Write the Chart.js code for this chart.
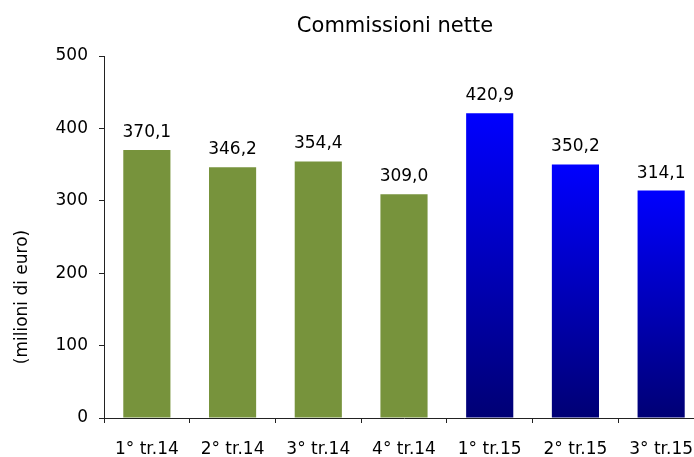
<!DOCTYPE html>
<html>
<head>
<meta charset="utf-8">
<title>Commissioni nette</title>
<script src="https://cdn.jsdelivr.net/npm/chart.js@4/dist/chart.umd.min.js"></script>
<style>
  html, body { margin: 0; padding: 0; background: #fff; overflow: hidden; }
  #wrap { width: 694px; height: 457px; overflow: hidden; }
</style>
</head>
<body>
<div id="wrap">
  <!-- the plot runs a little past the right edge in the original, so the canvas is wider than the window -->
  <canvas id="mainChart" width="704" height="457"></canvas>
</div>
<script>
const categories = ["1° tr.14", "2° tr.14", "3° tr.14", "4° tr.14", "1° tr.15", "2° tr.15", "3° tr.15"];
const commissioni = [370.1, 346.2, 354.4, 309.0, 420.9, 350.2, 314.1];
const yTicks = [0, 100, 200, 300, 400, 500];

const chartTitle = "Commissioni nette";
const yTitle = "(milioni di euro)";
const FONT = "'DejaVu Sans', sans-serif";

// green for 2014, blue gradient (per bar) for 2015
function barColor(ctx) {
  if (ctx.dataIndex < 4) return "#77933C";
  const chart = ctx.chart;
  if (!chart.chartArea || !chart.scales.y) return "#0000FF";
  const y = chart.scales.y;
  const top = y.getPixelForValue(ctx.raw);
  const bottom = y.getPixelForValue(0);
  const g = chart.ctx.createLinearGradient(0, top, 0, bottom);
  g.addColorStop(0, "#0000FF");
  g.addColorStop(1, "#000074");
  return g;
}

const extraText = {
  id: "extraText",
  afterDatasetsDraw(chart) {
    const ctx = chart.ctx;
    ctx.save();
    ctx.fillStyle = "#000";

    // value labels above bars
    ctx.font = "17px " + FONT;
    ctx.textAlign = "center";
    ctx.textBaseline = "alphabetic";
    chart.getDatasetMeta(0).data.forEach((bar, i) => {
      const txt = commissioni[i].toFixed(1).replace(".", ",");
      ctx.fillText(txt, bar.x, bar.y - 13);
    });

    // title
    ctx.font = "21px " + FONT;
    ctx.textBaseline = "middle";
    ctx.fillText(chartTitle, 395, 27);

    // y axis title
    ctx.font = "17px " + FONT;
    ctx.translate(23, 297);
    ctx.rotate(-Math.PI / 2);
    ctx.fillText(yTitle, 0, 0);
    ctx.restore();
  }
};

new Chart(document.getElementById("mainChart").getContext("2d"), {
  type: "bar",
  data: {
    labels: categories,
    datasets: [
      {
        label: chartTitle,
        data: commissioni,
        backgroundColor: barColor,
        borderWidth: 0,
        barPercentage: 0.55,
        categoryPercentage: 1
      }
    ]
  },
  options: {
    responsive: false,
    animation: false,
    layout: { padding: { top: 56, left: 0, right: 0, bottom: 0 } },
    plugins: {
      legend: { display: false },
      tooltip: { enabled: false },
      title: { display: false }
    },
    scales: {
      x: {
        afterFit: (s) => {
          s.height = 39;
          s.paddingLeft = 0;
          s.paddingRight = 0;
        },
        grid: {
          offset: true,
          drawOnChartArea: false,
          drawTicks: true,
          tickLength: 5,
          color: "#222"
        },
        border: { color: "#222", width: 1 },
        ticks: {
          color: "#000",
          font: { family: FONT, size: 17 },
          padding: 16,
          maxRotation: 0,
          autoSkip: false
        }
      },
      y: {
        min: 0,
        max: 500,
        afterFit: (s) => { s.width = 104; },
        afterBuildTicks: (s) => { s.ticks = yTicks.map((v) => ({ value: v })); },
        grid: {
          drawOnChartArea: false,
          drawTicks: true,
          tickLength: 5,
          color: "#222"
        },
        border: { color: "#222", width: 1 },
        ticks: {
          color: "#000",
          font: { family: FONT, size: 17 },
          padding: 11
        }
      }
    }
  },
  plugins: [extraText]
});
</script>
</body>
</html>
